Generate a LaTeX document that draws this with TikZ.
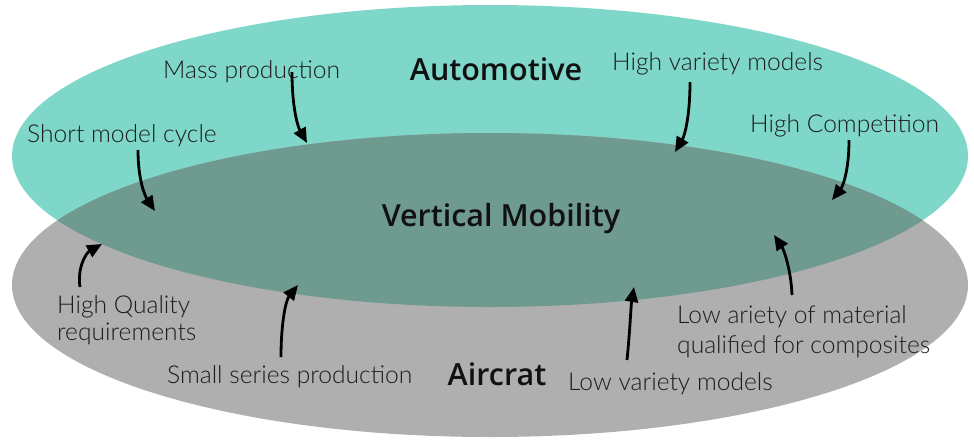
\documentclass[tikz,border=0pt]{standalone}
\usepackage{fontspec}
\usetikzlibrary{arrows.meta}
\IfFontExistsTF{Lato Light}{\newfontfamily\labelfont{Lato Light}}{\newfontfamily\labelfont{Lato}}
\IfFontExistsTF{Open Sans SemiBold}
  {\newfontfamily\titlefont{Open Sans SemiBold}\def\titleweight{}}
  {\IfFontExistsTF{Open Sans Semibold}
    {\newfontfamily\titlefont{Open Sans Semibold}\def\titleweight{}}
    {\newfontfamily\titlefont{Open Sans}\def\titleweight{\bfseries}}}
\definecolor{autofill}{HTML}{7FD7C9}
\definecolor{airfill}{HTML}{AFAFAF}
\definecolor{sharedfill}{HTML}{6E9A8F}
\definecolor{labeltext}{HTML}{1C1C1C}
\definecolor{titletext}{HTML}{111111}
\tikzset{
  lbl/.style={font=\labelfont\fontsize{24.6}{28}\selectfont, text=labeltext, inner sep=0pt, anchor=base west},
  ttl/.style={font=\titlefont\titleweight\fontsize{30.5}{34}\selectfont, text=titletext, inner sep=0pt, anchor=base},
  conn/.style={line width=2.8pt, black, -{Triangle[length=15pt, width=13pt]}}
}
\begin{document}
\begin{tikzpicture}[x=1pt, y=-1pt]
\useasboundingbox (0,0) rectangle (974,440);
% two sectors and their common ground
\fill[autofill] (490,156) ellipse [x radius=478pt, y radius=151pt];
\fill[airfill] (490,285) ellipse [x radius=478pt, y radius=152pt];
\begin{scope}
  \clip (490,156) ellipse [x radius=478pt, y radius=151pt];
  \fill[sharedfill] (490,285) ellipse [x radius=478pt, y radius=152pt];
\end{scope}

% titles
\node[ttl] (auto) at (496,80) {Automotive};
\node[ttl] (vm) at (501,226) {Vertical Mobility};
\node[ttl] (air) at (497,385) {Aircrat};

% automotive traits
\node[lbl] (mass) at (163,78) {Mass production};
\node[lbl] (hvar) at (612,70) {High variety models};
\node[lbl] (short) at (27,142) {Short model cycle};
\node[lbl] (hcomp) at (750,132) {High Competition};

% aircraft traits
\node[lbl] (hq1) at (57,313) {High Quality};
\node[lbl] (hq2) at (57,340) {requirements};
\node[lbl] (small) at (167,383) {Small series production};
\node[lbl] (lvar) at (568,390) {Low variety models};
\node[lbl] (lmat1) at (677,323) {Low ariety of material};
\node[lbl] (lmat2) at (677,353) {qualified for composites};

% arrow ends
\coordinate (massS) at (292,72);   \coordinate (massT) at (307,143);
\coordinate (shortS) at (138,150); \coordinate (shortT) at (155,211);
\coordinate (hvarS) at (690,82);   \coordinate (hvarT) at (675,152);
\coordinate (hcompS) at (849,140); \coordinate (hcompT) at (832,200);
\coordinate (hqS) at (80,287);     \coordinate (hqT) at (102,244);
\coordinate (smallS) at (281,357); \coordinate (smallT) at (298,285);
\coordinate (lvarS) at (627,360);  \coordinate (lvarT) at (634,287);
\coordinate (lmatS) at (792,295);  \coordinate (lmatT) at (774,235);

\draw[conn] (massS) .. controls (292,105) and (297,125) .. (massT);
\draw[conn] (shortS) .. controls (138,180) and (145,196) .. (shortT);
\draw[conn] (hvarS) .. controls (690,115) and (685,135) .. (hvarT);
\draw[conn] (hcompS) .. controls (849,170) and (843,186) .. (hcompT);
\draw[conn] (hqS) .. controls (77,268) and (86,253) .. (hqT);
\draw[conn] (smallS) .. controls (281,322) and (286,300) .. (smallT);
\draw[conn] (lvarS) .. controls (630,330) and (631,305) .. (lvarT);
\draw[conn] (lmatS) .. controls (791,270) and (784,250) .. (lmatT);
\end{tikzpicture}
\end{document}
